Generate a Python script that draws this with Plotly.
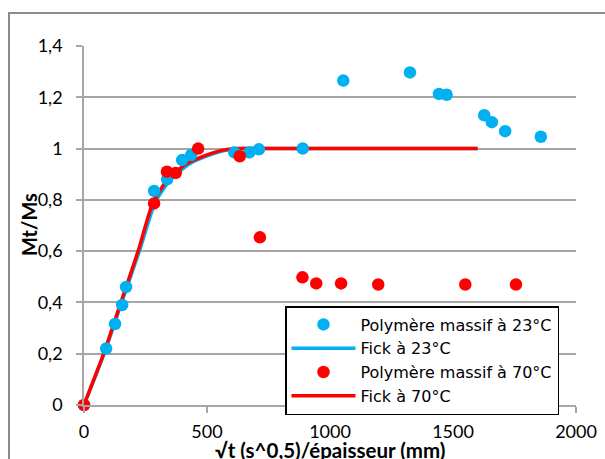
import plotly.graph_objects as go

# Data
x_23 = [0, 90, 126, 155, 171, 285, 338, 399, 436, 611, 672, 711, 889, 1054, 1325, 1443, 1474, 1627, 1658, 1712, 1857]
y_23 = [0, 0.22, 0.316, 0.39, 0.46, 0.835, 0.88, 0.955, 0.975, 0.985, 0.985, 0.997, 1.0, 1.265, 1.297, 1.213, 1.21, 1.13, 1.103, 1.068, 1.046]

x_70 = [0, 285, 337, 373, 464, 633, 715, 888, 944, 1045, 1196, 1550, 1756]
y_70 = [0, 0.786, 0.91, 0.905, 1.0, 0.97, 0.654, 0.498, 0.474, 0.474, 0.47, 0.47, 0.47]

fick23_x = [0, 82, 153, 225, 289, 352, 428, 512, 575, 650, 800, 1000, 1300, 1600]
fick23_y = [0, 0.2, 0.4, 0.6, 0.79, 0.88, 0.94, 0.975, 0.993, 1.0, 1.0, 1.0, 1.0, 1.0]

fick70_x = [0, 80, 150, 220, 280, 340, 415, 500, 560, 620, 800, 1000, 1300, 1600]
fick70_y = [0, 0.2, 0.4, 0.6, 0.79, 0.88, 0.94, 0.975, 0.993, 1.0, 1.0, 1.0, 1.0, 1.0]

BLUE = "#00B0F0"
RED = "#FF0000"
GRID = "#A6A6A6"
FONT = "Lato"
LEG_FONT = "DejaVu Sans"

fig = go.Figure()
fig.add_trace(go.Scatter(x=fick23_x, y=fick23_y, mode="lines", name="Fick à 23°C",
                         line=dict(color=BLUE, width=3.5, shape="spline", smoothing=0.5),
                         legendrank=2))
fig.add_trace(go.Scatter(x=fick70_x, y=fick70_y, mode="lines", name="Fick à 70°C",
                         line=dict(color=RED, width=3.5, shape="spline", smoothing=0.5),
                         legendrank=4))
fig.add_trace(go.Scatter(x=x_23, y=y_23, mode="markers", name="Polymère massif à 23°C",
                         marker=dict(color=BLUE, size=12.5), cliponaxis=False,
                         legendrank=1))
fig.add_trace(go.Scatter(x=x_70, y=y_70, mode="markers", name="Polymère massif à 70°C",
                         marker=dict(color=RED, size=12.5), cliponaxis=False,
                         legendrank=3))

L, R, T, B = 84, 29, 46, 54
W, H = 605, 459
pw, ph = W - L - R, H - T - B

def px_x(p):
    return (p - L) / pw

def px_y(p):
    return (H - B - p) / ph

fig.update_layout(
    width=W, height=H,
    margin=dict(l=L, r=R, t=T, b=B, autoexpand=False),
    paper_bgcolor="white", plot_bgcolor="white",
    separators=", ",
    font=dict(family=FONT, size=18, color="#000000"),
    showlegend=True,
    legend=dict(
        x=px_x(285), y=px_y(306), xanchor="left", yanchor="top",
        bgcolor="white", bordercolor="#000000", borderwidth=1.5,
        font=dict(family=LEG_FONT, size=16, color="#000000"),
        itemwidth=64, tracegroupgap=0,
        traceorder="normal",
    ),
    xaxis=dict(
        range=[0, 2000], dtick=500, tick0=0, automargin=False,
        showgrid=False, zeroline=False,
        showline=True, linecolor=GRID, linewidth=1.5,
        ticks="outside", ticklen=6, tickcolor=GRID, tickwidth=1.5,
        tickfont=dict(family=FONT, size=18),
        ticklabelstandoff=4,
    ),
    yaxis=dict(
        range=[0, 1.4], dtick=0.2, tick0=0, automargin=False,
        showgrid=True, gridcolor=GRID, gridwidth=1.5,
        zeroline=False,
        showline=True, linecolor=GRID, linewidth=1.5,
        ticks="outside", ticklen=6, tickcolor=GRID, tickwidth=1.5,
        tickfont=dict(family=FONT, size=18),
        ticklabelstandoff=10,
    ),
    annotations=[
        dict(text="<b>√t (s^0,5)/épaisseur (mm)</b>", xref="paper", yref="paper",
             x=px_x(330), y=px_y(464), xanchor="center", yanchor="bottom",
             showarrow=False, font=dict(family=FONT, size=20.5)),
        dict(text="<b>Mt/Ms</b>", xref="paper", yref="paper",
             x=px_x(29), y=px_y(225), xanchor="center", yanchor="middle",
             textangle=-90, showarrow=False, font=dict(family=FONT, size=20)),
    ],
    shapes=[
        dict(type="rect", xref="paper", yref="paper",
             x0=px_x(9), y0=px_y(470), x1=px_x(620), y1=px_y(13),
             line=dict(color="#8C8C8C", width=2), fillcolor="rgba(0,0,0,0)", layer="below"),
    ],
)

fig.write_html("out.html", config={"displayModeBar": False},
               post_script="document.body.style.margin='0';document.body.style.overflow='hidden';")
